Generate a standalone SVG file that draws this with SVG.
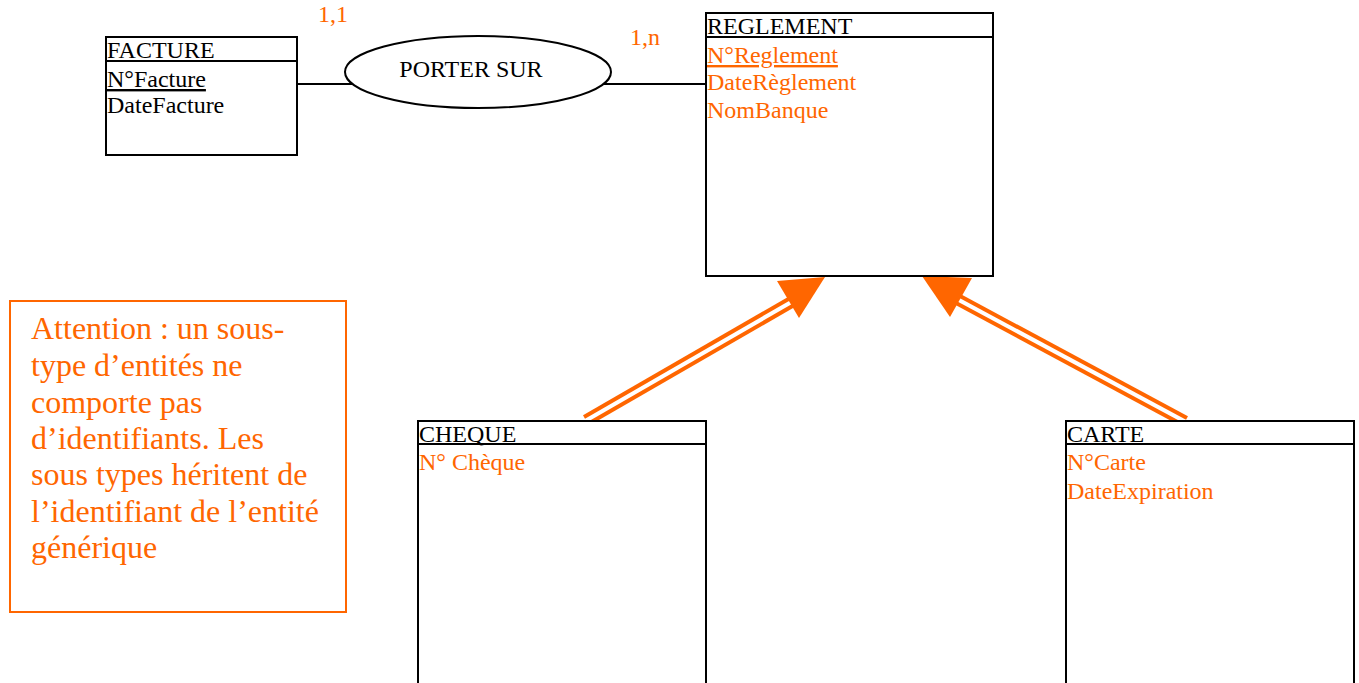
<svg xmlns="http://www.w3.org/2000/svg" width="1359" height="683" viewBox="0 0 1359 683">
<style>
text{font-family:"Liberation Serif","Times New Roman",serif;font-size:24px;fill:#000}
.o{fill:#FF6600}
.box{fill:#fff;stroke:#000;stroke-width:2}
.hd{stroke:#000;stroke-width:2}
.ln{stroke:#000;stroke-width:2;fill:none}
.ar{stroke:#FF6600;stroke-width:4;fill:none}
.ah{fill:#FF6600}
.note{font-size:32px}
</style>
<rect width="1359" height="683" fill="#fff"/>
<g id="connectors">
<line class="ln" x1="298" y1="84" x2="354" y2="84"/>
<line class="ln" x1="602" y1="84" x2="706" y2="84"/>
<line class="ar" x1="584" y1="417" x2="792" y2="297"/>
<line class="ar" x1="588" y1="424" x2="796" y2="304"/>
<polygon class="ah" points="777,281 825,277 799,318"/>
<line class="ar" x1="960" y1="296" x2="1187" y2="418"/>
<line class="ar" x1="956" y1="303" x2="1183" y2="425"/>
<polygon class="ah" points="922,276 972,278 950,317"/>
<text class="o" x="318" y="22">1,1</text>
<text class="o" x="630" y="45">1,n</text>
</g>
<g id="facture">
<rect class="box" x="106" y="37" width="191" height="118"/>
<line class="hd" x1="106" y1="61" x2="297" y2="61"/>
<text x="107" y="58">FACTURE</text>
<text x="107" y="87" text-decoration="underline">N°Facture</text>
<text x="107" y="113">DateFacture</text>
</g>
<g id="porter-sur">
<ellipse cx="478" cy="72" rx="133" ry="36" fill="#fff" stroke="#000" stroke-width="2"/>
<text x="471" y="77" text-anchor="middle">PORTER SUR</text>
</g>
<g id="reglement">
<rect class="box" x="706" y="13" width="287" height="263"/>
<line class="hd" x1="706" y1="37" x2="993" y2="37"/>
<text x="707" y="34">REGLEMENT</text>
<text class="o" x="707" y="63" text-decoration="underline">N°Reglement</text>
<text class="o" x="707" y="90">DateRèglement</text>
<text class="o" x="707" y="118">NomBanque</text>
</g>
<g id="cheque">
<rect class="box" x="418" y="421" width="288" height="280"/>
<line class="hd" x1="418" y1="444" x2="706" y2="444"/>
<text x="419" y="442">CHEQUE</text>
<text class="o" x="419" y="470">N° Chèque</text>
</g>
<g id="carte">
<rect class="box" x="1066" y="421" width="288" height="280"/>
<line class="hd" x1="1066" y1="444" x2="1354" y2="444"/>
<text x="1067" y="442">CARTE</text>
<text class="o" x="1067" y="470">N°Carte</text>
<text class="o" x="1067" y="499">DateExpiration</text>
</g>
<g id="note">
<rect x="10" y="301" width="336" height="311" fill="#fff" stroke="#FF6600" stroke-width="2"/>
<text class="o note" x="31" y="339">Attention : un sous-</text>
<text class="o note" x="31" y="376">type d’entités ne</text>
<text class="o note" x="31" y="413">comporte pas</text>
<text class="o note" x="31" y="449">d’identifiants. Les</text>
<text class="o note" x="31" y="485">sous types héritent de</text>
<text class="o note" x="31" y="522">l’identifiant de l’entité</text>
<text class="o note" x="31" y="558">générique</text>
</g>
</svg>
